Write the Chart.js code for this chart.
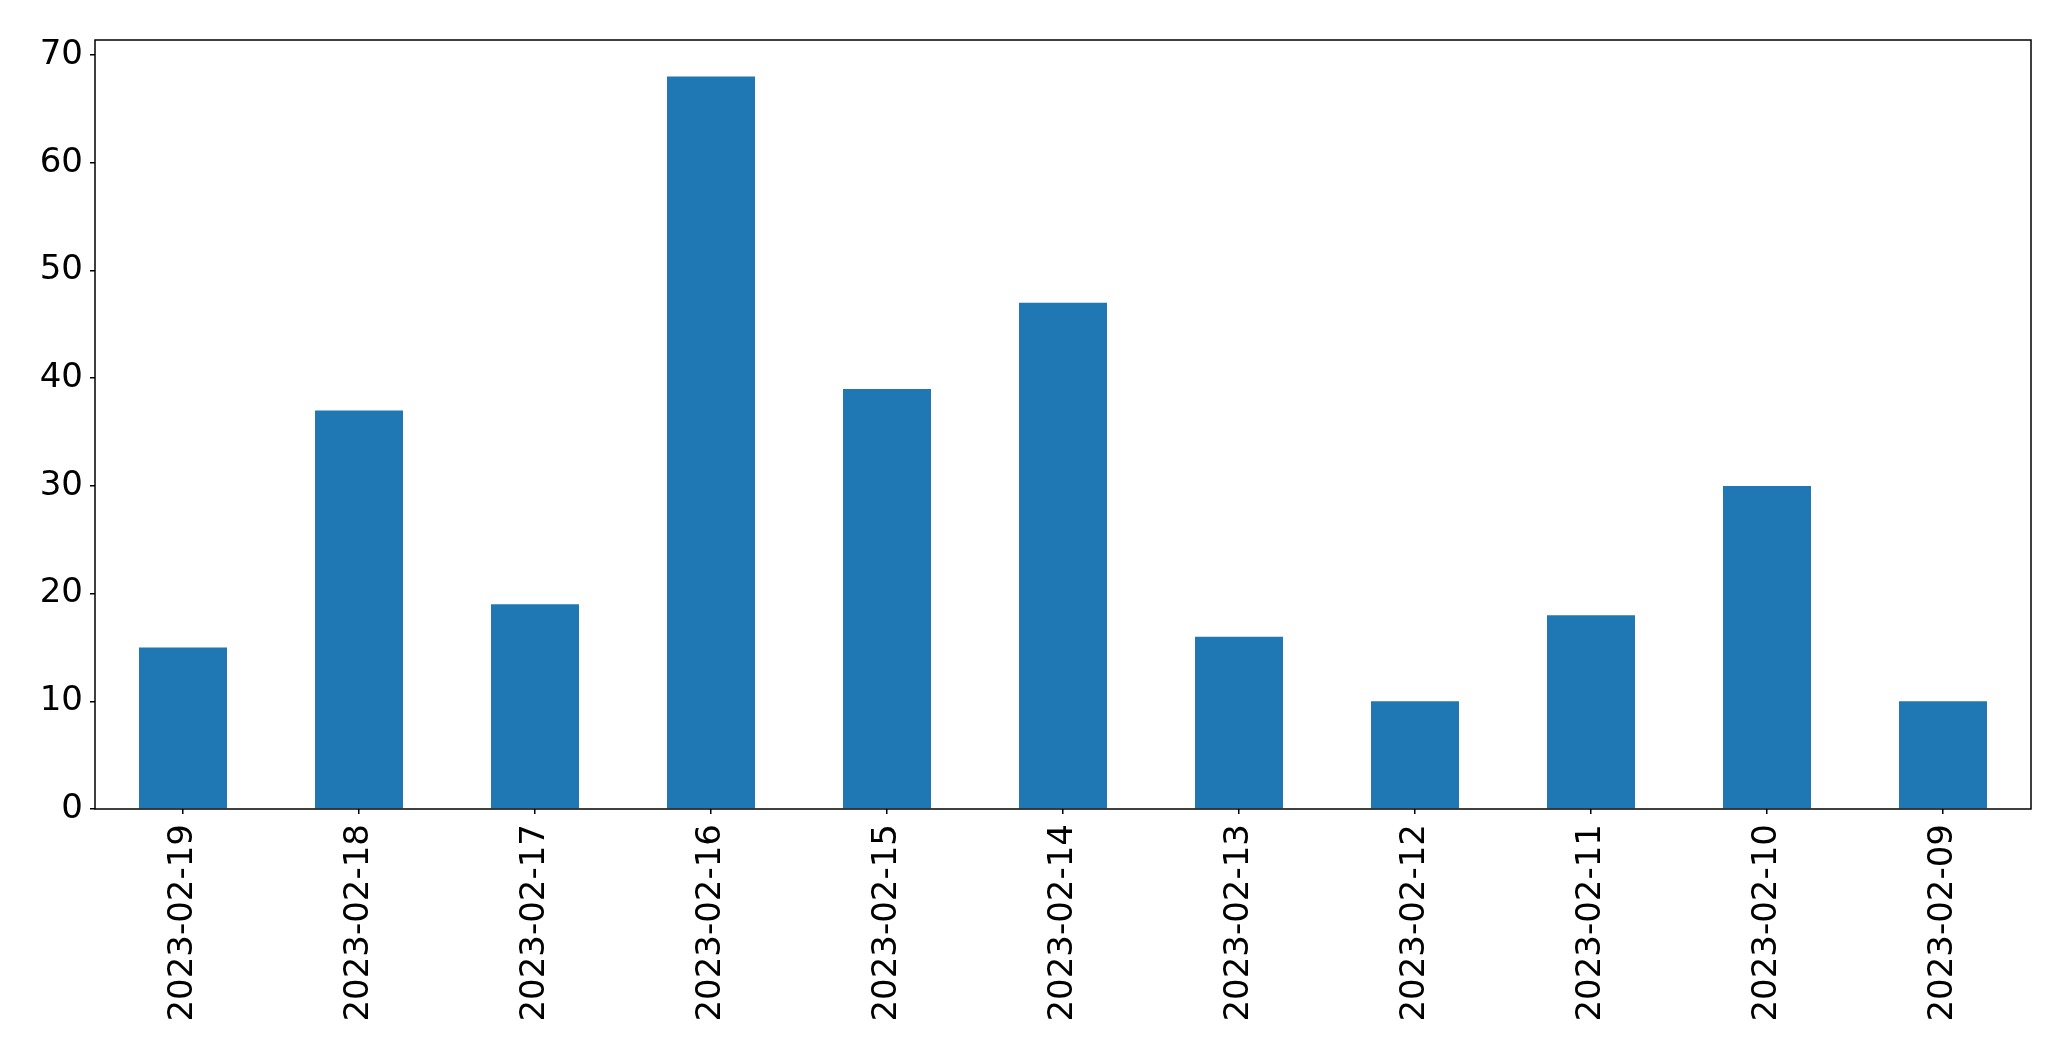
<!DOCTYPE html>
<html>
<head>
<meta charset="utf-8">
<script src="https://cdn.jsdelivr.net/npm/chart.js@4"></script>
<style>
  body { margin: 0; background: #ffffff; }
  canvas { display: block; }
</style>
</head>
<body>
<canvas id="barChart" width="2071" height="1061"></canvas>
<script>
const dates = ['2023-02-19', '2023-02-18', '2023-02-17', '2023-02-16', '2023-02-15', '2023-02-14',
               '2023-02-13', '2023-02-12', '2023-02-11', '2023-02-10', '2023-02-09'];
const counts = [15, 37, 19, 68, 39, 47, 16, 10, 18, 30, 10];
const yMin = 0;
const yMax = 71.4;
const yStep = 10;

document.addEventListener('DOMContentLoaded', function() {
    initBarChart();
});

function initBarChart() {
    Chart.defaults.font.family = "'DejaVu Sans', sans-serif";
    Chart.defaults.color = '#000000';

    // full box around the plot area, like the matplotlib axes frame
    const frame = {
        id: 'frame',
        afterDraw(chart) {
            const a = chart.chartArea;
            const ctx = chart.ctx;
            ctx.save();
            ctx.strokeStyle = '#000000';
            ctx.lineWidth = 1.5;
            ctx.strokeRect(a.left, a.top, a.right - a.left, a.bottom - a.top);
            ctx.restore();
        }
    };

    const ctx = document.getElementById('barChart').getContext('2d');
    new Chart(ctx, {
        type: 'bar',
        data: {
            labels: dates,
            datasets: [{
                data: counts,
                backgroundColor: '#1f77b4',
                borderWidth: 0,
                categoryPercentage: 1.0,
                barPercentage: 0.5
            }]
        },
        options: {
            responsive: false,
            animation: false,
            layout: {
                padding: { top: 40, right: 40, left: 0, bottom: 0 }
            },
            plugins: {
                legend: { display: false },
                tooltip: { enabled: false }
            },
            scales: {
                x: {
                    offset: true,
                    afterFit(scale) { scale.height = 252; },
                    grid: {
                        offset: false,
                        drawOnChartArea: false,
                        drawTicks: true,
                        tickLength: 5,
                        color: '#000000',
                        lineWidth: 1.5
                    },
                    border: { display: false },
                    ticks: {
                        autoSkip: false,
                        minRotation: 90,
                        maxRotation: 90,
                        padding: 10,
                        font: { size: 34 }
                    }
                },
                y: {
                    min: yMin,
                    max: yMax,
                    afterFit(scale) { scale.width = 95; },
                    grid: {
                        drawOnChartArea: false,
                        drawTicks: true,
                        tickLength: 5,
                        color: '#000000',
                        lineWidth: 1.5
                    },
                    border: { display: false },
                    ticks: {
                        stepSize: yStep,
                        includeBounds: false,
                        padding: 7,
                        font: { size: 34 }
                    }
                }
            }
        },
        plugins: [frame]
    });
}
</script>
</body>
</html>
